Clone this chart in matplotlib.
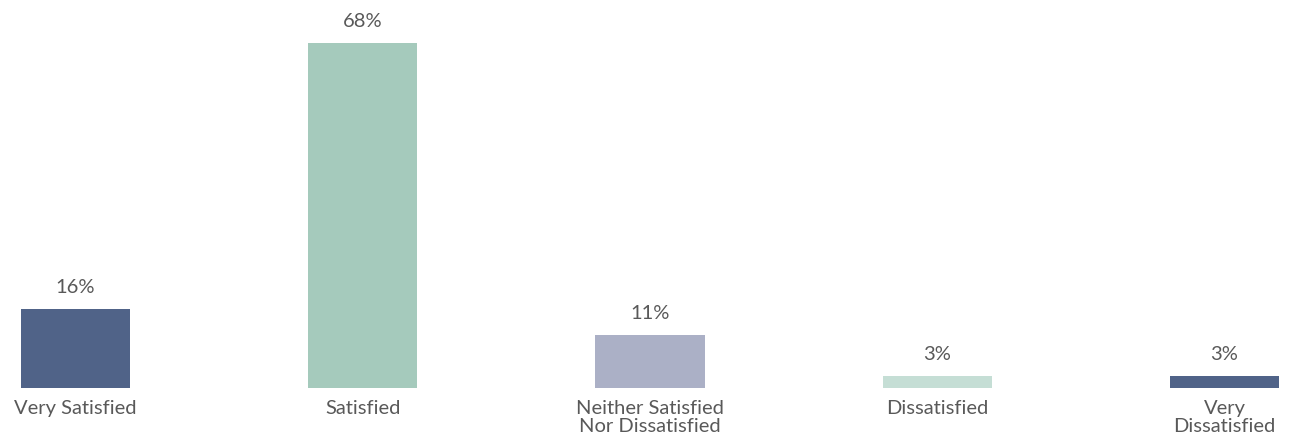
import matplotlib
matplotlib.use("Agg")
import matplotlib.pyplot as plt
from matplotlib.transforms import blended_transform_factory

categories = ["Very Satisfied", "Satisfied", "Neither Satisfied\nNor Dissatisfied",
              "Dissatisfied", "Very\nDissatisfied"]
values = [16, 68, 11, 3, 3]
value_labels = ["16%", "68%", "11%", "3%", "3%"]
colors = ["#506388", "#a5cabc", "#abb0c6", "#c5ded5", "#506388"]

plt.rcParams["font.family"] = ["Lato", "DejaVu Sans"]
text_color = "#595959"

fig = plt.figure(figsize=(12.91, 4.40), dpi=100)
ax = fig.add_axes([0, 52 / 440, 1, 388 / 440])

x = list(range(len(categories)))
ax.bar(x, values, width=0.38, color=colors, zorder=2)

# axis range: the baseline sits slightly above zero
ax.set_xlim(-0.2628, 4.2315)
ax.set_ylim(0.66, 0.66 + 388 / 5.123)

for xi, v, lab in zip(x, values, value_labels):
    ax.annotate(lab, (xi, v), xytext=(0, 13), textcoords="offset pixels",
                ha="center", va="bottom", fontsize=14.5, color=text_color)

trans = blended_transform_factory(ax.transData, ax.transAxes)
for xi, cat in zip(x, categories):
    ax.annotate(cat, (xi, 0), xycoords=trans, xytext=(0, -12),
                textcoords="offset pixels", ha="center", va="top",
                fontsize=14.5, color=text_color, linespacing=1.08)

ax.axis("off")
fig.savefig("out.png", dpi=100)
